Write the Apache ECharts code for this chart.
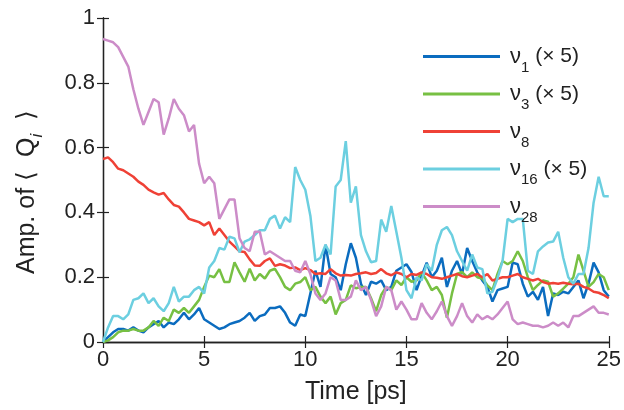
<!DOCTYPE html>
<html>
<head>
<meta charset="utf-8">
<script src="https://cdn.jsdelivr.net/npm/echarts@6/dist/echarts.min.js"></script>
<style>
  html, body { margin: 0; padding: 0; background: #fff; }
  #main { width: 624px; height: 410px; }
</style>
</head>
<body>
<div id="main"></div>
<script>
// 时间轴 (ps)
const timePs = [
  0, 0.25, 0.5, 0.75, 1, 1.25, 1.5, 1.75, 2, 2.25, 2.5, 2.75, 3, 3.25, 3.5, 3.75, 4, 4.25, 4.5, 4.75,
  5, 5.25, 5.5, 5.75, 6, 6.25, 6.5, 6.75, 7, 7.25, 7.5, 7.75, 8, 8.25, 8.5, 8.75, 9, 9.25, 9.5, 9.75,
  10, 10.25, 10.5, 10.75, 11, 11.25, 11.5, 11.75, 12, 12.25, 12.5, 12.75, 13, 13.25, 13.5, 13.75, 14, 14.25, 14.5, 14.75,
  15, 15.25, 15.5, 15.75, 16, 16.25, 16.5, 16.75, 17, 17.25, 17.5, 17.75, 18, 18.25, 18.5, 18.75, 19, 19.25, 19.5, 19.75,
  20, 20.25, 20.5, 20.75, 21, 21.25, 21.5, 21.75, 22, 22.25, 22.5, 22.75, 23, 23.25, 23.5, 23.75, 24, 24.25, 24.5, 24.75, 25
];

// ν1 (×5)
const nu1 = [
  0, 0.015, 0.03, 0.04, 0.04, 0.035, 0.045, 0.035, 0.03, 0.045, 0.055, 0.065, 0.045, 0.06, 0.055, 0.07, 0.09, 0.07, 0.085, 0.105,
  0.07, 0.06, 0.05, 0.04, 0.045, 0.055, 0.06, 0.065, 0.075, 0.09, 0.065, 0.08, 0.085, 0.105, 0.105, 0.11, 0.09, 0.06, 0.05, 0.085,
  0.08, 0.15, 0.22, 0.17, 0.3, 0.21, 0.2, 0.16, 0.24, 0.305, 0.26, 0.18, 0.145, 0.186, 0.18, 0.19, 0.16, 0.17, 0.22, 0.23,
  0.24, 0.216, 0.16, 0.205, 0.245, 0.2, 0.22, 0.26, 0.17, 0.22, 0.25, 0.21, 0.29, 0.25, 0.215, 0.19, 0.17, 0.125, 0.16, 0.165,
  0.17, 0.245, 0.24, 0.18, 0.14, 0.155, 0.13, 0.17, 0.08, 0.15, 0.145, 0.155, 0.15, 0.17, 0.19, 0.135, 0.18, 0.245, 0.215, 0.16, 0.14
];

// ν3 (×5)
const nu3 = [
  0, 0.005, 0.015, 0.03, 0.035, 0.035, 0.04, 0.035, 0.035, 0.045, 0.065, 0.05, 0.075, 0.065, 0.1, 0.09, 0.105, 0.09, 0.11, 0.13,
  0.17, 0.205, 0.2, 0.225, 0.185, 0.185, 0.246, 0.215, 0.186, 0.226, 0.19, 0.21, 0.196, 0.22, 0.226, 0.2, 0.17, 0.16, 0.18, 0.185,
  0.2, 0.16, 0.17, 0.14, 0.12, 0.14, 0.085, 0.12, 0.13, 0.175, 0.166, 0.17, 0.17, 0.135, 0.095, 0.145, 0.17, 0.16, 0.19, 0.176,
  0.2, 0.186, 0.19, 0.215, 0.19, 0.16, 0.17, 0.145, 0.075, 0.15, 0.21, 0.216, 0.2, 0.215, 0.2, 0.196, 0.175, 0.16, 0.21, 0.25,
  0.24, 0.25, 0.28, 0.25, 0.2, 0.16, 0.176, 0.19, 0.186, 0.14, 0.15, 0.165, 0.18, 0.2, 0.27, 0.22, 0.17, 0.185, 0.21, 0.2, 0.16
];

// ν8
const nu8 = [
  0.565, 0.57, 0.555, 0.535, 0.53, 0.52, 0.51, 0.495, 0.485, 0.47, 0.462, 0.455, 0.46, 0.44, 0.423, 0.418, 0.4, 0.38, 0.375, 0.37,
  0.36, 0.37, 0.33, 0.35, 0.33, 0.31, 0.295, 0.28, 0.278, 0.255, 0.236, 0.235, 0.25, 0.258, 0.235, 0.24, 0.236, 0.228, 0.23, 0.222,
  0.228, 0.222, 0.21, 0.212, 0.21, 0.225, 0.212, 0.205, 0.207, 0.205, 0.21, 0.212, 0.215, 0.21, 0.213, 0.225, 0.212, 0.206, 0.215, 0.21,
  0.2, 0.21, 0.207, 0.215, 0.21, 0.2, 0.198, 0.195, 0.2, 0.205, 0.21, 0.203, 0.2, 0.205, 0.21, 0.2, 0.21, 0.19, 0.195, 0.2,
  0.2, 0.205, 0.21, 0.2, 0.195, 0.19, 0.195, 0.185, 0.18, 0.182, 0.18, 0.183, 0.18, 0.178, 0.18, 0.17, 0.165, 0.155, 0.152, 0.145, 0.135
];

// ν16 (×5)
const nu16 = [
  0, 0.045, 0.08, 0.08, 0.07, 0.085, 0.13, 0.135, 0.15, 0.12, 0.135, 0.11, 0.095, 0.12, 0.17, 0.125, 0.14, 0.14, 0.16, 0.17,
  0.15, 0.23, 0.25, 0.29, 0.285, 0.325, 0.32, 0.277, 0.31, 0.317, 0.33, 0.345, 0.345, 0.38, 0.39, 0.35, 0.385, 0.37, 0.54, 0.5,
  0.47, 0.39, 0.25, 0.26, 0.3, 0.27, 0.48, 0.5, 0.62, 0.43, 0.48, 0.33, 0.28, 0.246, 0.25, 0.378, 0.34, 0.42, 0.34, 0.26,
  0.16, 0.135, 0.2, 0.19, 0.24, 0.22, 0.3, 0.345, 0.355, 0.33, 0.28, 0.25, 0.22, 0.27, 0.23, 0.225, 0.15, 0.155, 0.196, 0.25,
  0.38, 0.37, 0.38, 0.38, 0.22, 0.21, 0.28, 0.295, 0.307, 0.31, 0.34, 0.26, 0.2, 0.18, 0.21, 0.21, 0.29, 0.43, 0.51, 0.45, 0.45
];

// ν28
const nu28 = [
  0.935, 0.93, 0.925, 0.91, 0.88, 0.85, 0.78, 0.72, 0.67, 0.71, 0.75, 0.74, 0.64, 0.69, 0.75, 0.72, 0.7, 0.65, 0.67, 0.55,
  0.49, 0.51, 0.49, 0.38, 0.41, 0.44, 0.44, 0.32, 0.29, 0.28, 0.34, 0.34, 0.27, 0.28, 0.27, 0.26, 0.25, 0.25, 0.22, 0.215,
  0.25, 0.21, 0.15, 0.13, 0.15, 0.2, 0.19, 0.13, 0.13, 0.14, 0.19, 0.16, 0.17, 0.13, 0.08, 0.11, 0.17, 0.16, 0.1, 0.125,
  0.1, 0.07, 0.07, 0.12, 0.09, 0.07, 0.095, 0.125, 0.08, 0.05, 0.08, 0.12, 0.08, 0.06, 0.085, 0.07, 0.08, 0.07, 0.085, 0.105,
  0.125, 0.07, 0.055, 0.06, 0.055, 0.05, 0.05, 0.045, 0.05, 0.06, 0.05, 0.06, 0.045, 0.08, 0.08, 0.09, 0.1, 0.11, 0.09, 0.09, 0.085
];

const seriesNames = ["nu1", "nu3", "nu8", "nu16", "nu28"];
const seriesData = [nu1, nu3, nu8, nu16, nu28];
const subs = ["1", "3", "8", "16", "28"];
const scaled = [true, true, false, true, false]; // (× 5)
const colors = ["#0b6cbf", "#77c043", "#ef4136", "#6ccfe0", "#cc8cc8"];

const font = "'Liberation Sans', Arial, Helvetica, sans-serif";

const chart = echarts.init(document.getElementById("main"), null, { renderer: "canvas" });

const axisLine = { show: true, lineStyle: { color: "#222", width: 1.3 } };
const axisTick = { show: true, inside: true, length: 6, lineStyle: { color: "#222", width: 1.2 } };

const option = {
  backgroundColor: "#fff",
  animation: false,
  color: colors,
  grid: { left: 103, right: 14, top: 18, bottom: 62 },
  legend: {
    orient: "vertical",
    left: 423,
    top: 38,
    padding: 0,
    icon: "rect",
    itemWidth: 77,
    itemHeight: 3,
    itemGap: 0.5,
    data: seriesNames,
    formatter: function (name) {
      const i = seriesNames.indexOf(name);
      return "{a|ν}{s|" + subs[i] + "}" + (scaled[i] ? "{b| (× 5)}" : "");
    },
    textStyle: {
      padding: [0, 0, 0, 5],
      rich: {
        a: { fontSize: 22, fontFamily: font, color: "#222", lineHeight: 28 },
        s: { fontSize: 15, fontFamily: font, color: "#222", lineHeight: 12, padding: [22, 0, 0, 0] },
        b: { fontSize: 21, fontFamily: font, color: "#222", lineHeight: 28 },
      },
    },
  },
  xAxis: [
    {
      type: "value",
      min: 0,
      max: 25,
      interval: 5,
      position: "bottom",
      axisLine: axisLine,
      axisTick: axisTick,
      splitLine: { show: false },
      axisLabel: { fontSize: 22, fontFamily: font, color: "#222", margin: 7 },
      name: "Time [ps]",
      nameLocation: "middle",
      nameGap: 38,
      nameTextStyle: { fontSize: 25, fontFamily: font, color: "#222" },
    },
    {
      type: "value",
      min: 0,
      max: 25,
      interval: 5,
      position: "top",
      axisLine: axisLine,
      axisTick: axisTick,
      splitLine: { show: false },
      axisLabel: { show: false },
    },
  ],
  yAxis: [
    {
      type: "value",
      min: 0,
      max: 1,
      interval: 0.2,
      position: "left",
      axisLine: axisLine,
      axisTick: axisTick,
      splitLine: { show: false },
      axisLabel: { fontSize: 22, fontFamily: font, color: "#222", margin: 8 },
      name: "{a|Amp. of ⟨  Q}{s|i}{e|  ⟩}",
      nameLocation: "middle",
      nameGap: 60,
      nameTextStyle: {
        rich: {
          a: { fontSize: 25, fontFamily: font, color: "#222", lineHeight: 32 },
          s: { fontSize: 17, fontFamily: font, fontStyle: "italic", color: "#222", lineHeight: 12, padding: [20, 0, 0, 0] },
          // 末尾留白, 让标题整体下移
          e: { fontSize: 25, fontFamily: font, color: "#222", lineHeight: 32, padding: [0, 24, 0, 0] },
        },
      },
    },
    {
      type: "value",
      min: 0,
      max: 1,
      interval: 0.2,
      position: "right",
      axisLine: axisLine,
      axisTick: axisTick,
      splitLine: { show: false },
      axisLabel: { show: false },
    },
  ],
  series: seriesNames.map(function (name, i) {
    return {
      name: name,
      type: "line",
      xAxisIndex: 0,
      yAxisIndex: 0,
      showSymbol: false,
      symbol: "none",
      lineStyle: { width: 2.5, color: colors[i] },
      data: timePs.map(function (t, j) { return [t, seriesData[i][j]]; }),
    };
  }),
};

chart.setOption(option);
</script>
</body>
</html>
